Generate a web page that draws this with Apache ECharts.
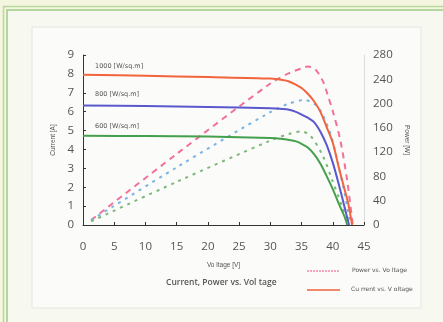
<!DOCTYPE html>
<html><head><meta charset="utf-8">
<script src="https://cdn.jsdelivr.net/npm/echarts@6/dist/echarts.min.js"></script>
<style>html,body{margin:0;padding:0;background:#f5f6df;}#c{width:443px;height:322px;}</style>
</head><body><div id="c"></div>
<script>
// Current vs Voltage [V, A]
const current1000 = [[0,7.95],[10,7.9],[20,7.83],[30,7.75],[32,7.68],[33,7.6],[34,7.45],[35,7.25],[36,6.95],[37,6.55],[38,6.0],[39,5.2],[40,4.35],[41,3.0],[42,1.75],[42.5,1.1],[43.1,0]];
const current800 = [[0,6.32],[10,6.3],[20,6.25],[30,6.18],[32,6.14],[33,6.1],[34,6.0],[35,5.85],[36,5.68],[37,5.45],[38,4.95],[39,4.25],[40,3.3],[41,2.1],[42,0.8],[42.6,0]];
const current600 = [[0,4.72],[10,4.71],[20,4.68],[30,4.6],[32,4.55],[33,4.5],[34,4.44],[35,4.3],[36,4.1],[37,3.75],[38,3.25],[39,2.6],[40,1.9],[41,1.1],[42,0.35],[42.3,0]];
// Power vs Voltage [V, W]
const power1000 = [[1.3,8],[15,117],[30,233],[33,250],[35,258],[36,261],[37,258],[37.7,250],[38.5,235],[39.1,217],[40.1,184],[41.2,140],[42.3,74],[43.2,0]];
const power800 = [[1.3,8],[15,95],[30,186],[33,200],[35.5,206],[37,200],[38,189],[39.6,151],[40.7,107],[42,47],[42.8,0]];
const power600 = [[1.3,6],[15,71],[30,139],[33,150],[35,154],[36.5,146],[38.5,112],[39.9,74],[41.5,30],[42.3,0]];
const irradianceLabels = ['1000 [W/sq.m]','800 [W/sq.m]','600 [W/sq.m]'];

const chart = echarts.init(document.getElementById('c'), null, {renderer:'canvas'});
const txt = '#555';
function line(data, color, yIdx, type, w) {
  return {type:'line', data, yAxisIndex:yIdx, smooth:0.3, showSymbol:false, symbol:'none',
    lineStyle:{color, width:w, type}, itemStyle:{color}, z: yIdx ? 2 : 3};
}
chart.setOption({
  animation:false,
  backgroundColor:'#f5f6df',
  grid:{left:83, right:79, top:55, bottom:97},
  graphic:[
    {type:'rect', z:-10, shape:{x:3.5,y:6.5,width:445,height:320}, style:{fill:'none', stroke:'#b9d8a0', lineWidth:1.5}},
    {type:'rect', z:-10, shape:{x:7,y:10,width:440,height:320}, style:{fill:'#f7f9f1', stroke:'#9fcb86', lineWidth:1.5}},
    {type:'rect', z:-9, shape:{x:32,y:27,width:389,height:281}, style:{fill:'#fbfbf9', stroke:'#e4e6df', lineWidth:1}},
    {type:'text', left:95, top:63, style:{text:irradianceLabels[0], fill:'#555', font:'6.5px "DejaVu Sans"'}},
    {type:'text', left:95, top:91, style:{text:irradianceLabels[1], fill:'#555', font:'6.5px "DejaVu Sans"'}},
    {type:'text', left:95, top:123, style:{text:irradianceLabels[2], fill:'#555', font:'6.5px "DejaVu Sans"'}},
    {type:'text', left:166, top:278, style:{text:'Current, Power vs. Vol tage', fill:'#555', font:'600 8.5px "Open Sans"'}},
    {type:'line', shape:{x1:307,y1:271,x2:340,y2:271}, style:{stroke:'#f08ab0', lineWidth:1.5, lineDash:[2,1]}},
    {type:'text', left:352, top:267, style:{text:'Power vs. Vo ltage', fill:'#555', font:'6px "DejaVu Sans"'}},
    {type:'line', shape:{x1:307,y1:290,x2:340,y2:290}, style:{stroke:'#f0603a', lineWidth:1.5}},
    {type:'text', left:351, top:286, style:{text:'Cu rrent vs. V oltage', fill:'#555', font:'6px "DejaVu Sans"'}}
  ],
  xAxis:{type:'value', min:0, max:45, interval:5,
    name:'Vo ltage [V]', nameLocation:'middle', nameGap:37, nameTextStyle:{color:'#555', fontSize:6.5},
    axisLine:{show:true, lineStyle:{color:'#333', width:1}},
    axisTick:{show:true, inside:true, length:3, lineStyle:{color:'#333'}},
    axisLabel:{color:txt, fontSize:11.5, margin:16, fontFamily:'Open Sans'},
    splitLine:{show:false}},
  yAxis:[
    {type:'value', min:0, max:9, interval:1, position:'left',
      name:'Current [A]', nameLocation:'middle', nameGap:26, nameRotate:90, nameTextStyle:{color:'#555', fontSize:6.5},
      axisLine:{show:true, lineStyle:{color:'#333', width:1}},
      axisTick:{show:true, inside:true, length:3, lineStyle:{color:'#333'}},
      axisLabel:{color:txt, fontSize:11.5, margin:9, fontFamily:'Open Sans'},
      splitLine:{show:false}},
    {type:'value', min:0, max:280, interval:40, position:'right',
      name:'Power [W]', nameLocation:'middle', nameGap:33, nameRotate:-90, nameTextStyle:{color:'#555', fontSize:6.5},
      axisLine:{show:true, lineStyle:{color:'#ddd', width:1}},
      axisTick:{show:false},
      axisLabel:{color:txt, fontSize:11.5, margin:9, fontFamily:'Open Sans'},
      splitLine:{show:false}}
  ],
  series:[
    line(power1000, '#f2709c', 1, [6,5], 2),
    line(power800, '#78b4e4', 1, [3,5], 2),
    line(power600, '#7cb87a', 1, [3,5], 2),
    line(current1000, '#f2643c', 0, 'solid', 2),
    line(current800, '#5a58cc', 0, 'solid', 2),
    line(current600, '#44a04c', 0, 'solid', 2)
  ]
});
</script></body></html>
